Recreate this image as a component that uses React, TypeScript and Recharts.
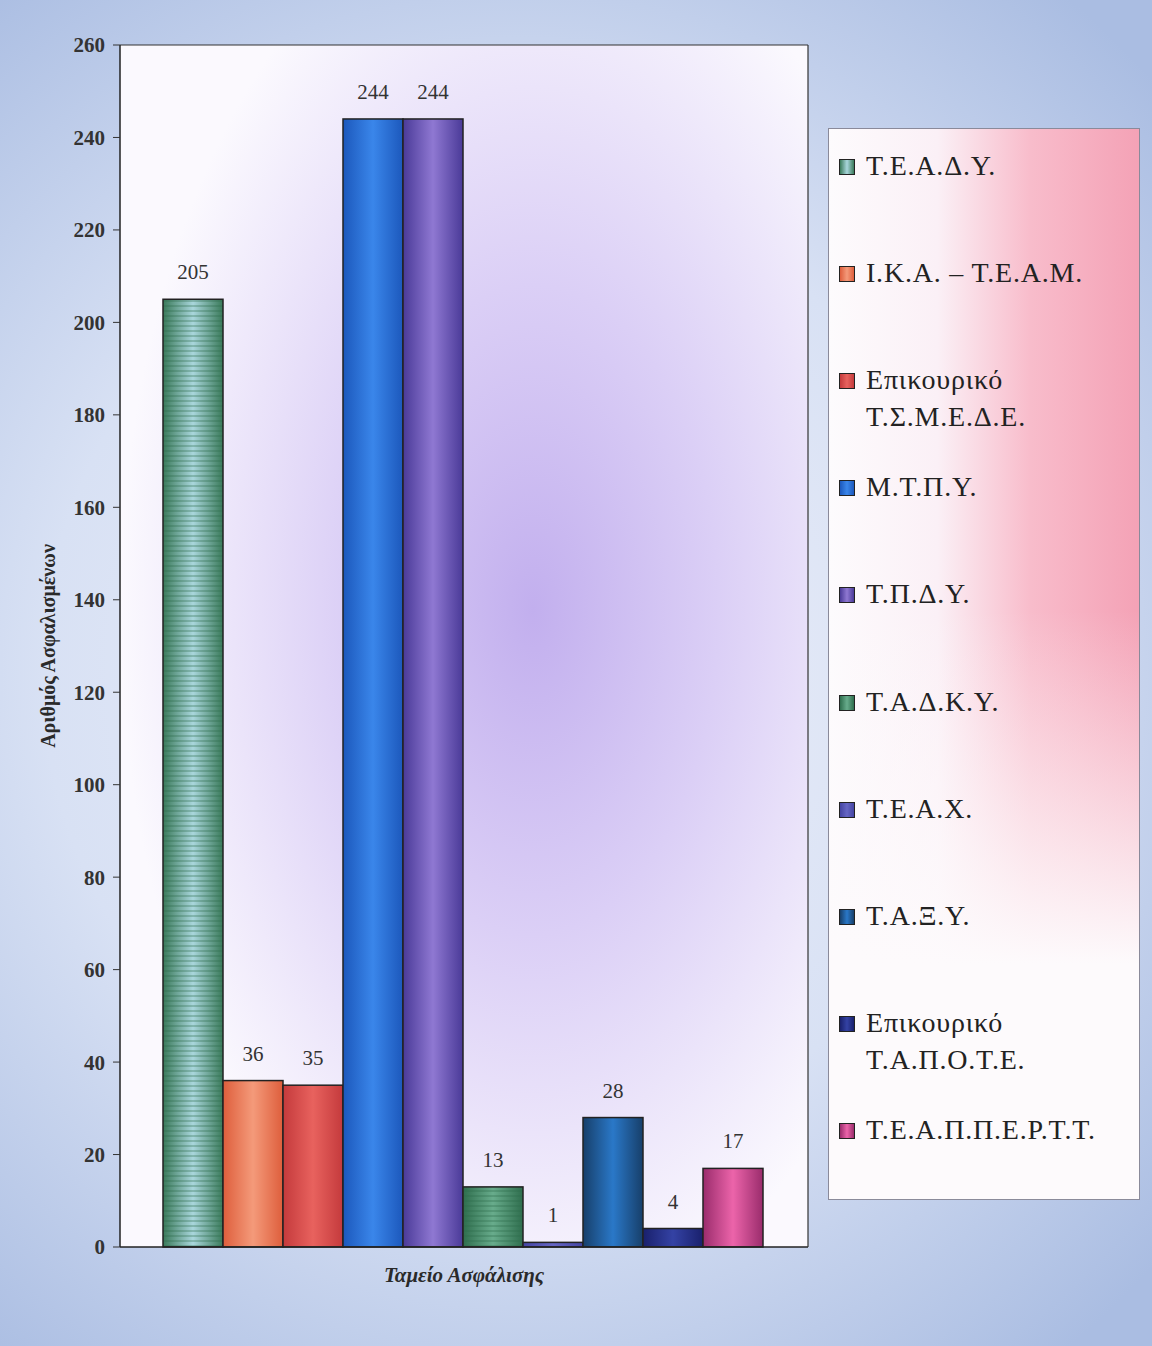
import React from 'react';
import { BarChart, Bar, XAxis, YAxis, CartesianGrid, LabelList } from 'recharts';

const category = ['Ταμείο Ασφάλισης'];
const seriesNames = [
  'Τ.Ε.Α.Δ.Υ.',
  'Ι.Κ.Α. – Τ.Ε.Α.Μ.',
  'Επικουρικό Τ.Σ.Μ.Ε.Δ.Ε.',
  'Μ.Τ.Π.Υ.',
  'Τ.Π.Δ.Υ.',
  'Τ.Α.Δ.Κ.Υ.',
  'Τ.Ε.Α.Χ.',
  'Τ.Α.Ξ.Υ.',
  'Επικουρικό Τ.Α.Π.Ο.Τ.Ε.',
  'Τ.Ε.Α.Π.Π.Ε.Ρ.Τ.Τ.',
];
const legendLines = [
  ['Τ.Ε.Α.Δ.Υ.'],
  ['Ι.Κ.Α. – Τ.Ε.Α.Μ.'],
  ['Επικουρικό', 'Τ.Σ.Μ.Ε.Δ.Ε.'],
  ['Μ.Τ.Π.Υ.'],
  ['Τ.Π.Δ.Υ.'],
  ['Τ.Α.Δ.Κ.Υ.'],
  ['Τ.Ε.Α.Χ.'],
  ['Τ.Α.Ξ.Υ.'],
  ['Επικουρικό', 'Τ.Α.Π.Ο.Τ.Ε.'],
  ['Τ.Ε.Α.Π.Π.Ε.Ρ.Τ.Τ.'],
];
const seriesValues = [205, 36, 35, 244, 244, 13, 1, 28, 4, 17];
const yTicks = [0, 20, 40, 60, 80, 100, 120, 140, 160, 180, 200, 220, 240, 260];
// [edge, center] colours of each bar
const barEdge = ['#3a7a5a', '#de5e3c', '#c43a3c', '#1c58bc', '#4a3a98', '#2f6e4e', '#4444a2', '#173f6a', '#19206c', '#9a2c6c'];
const barCenter = ['#a9d6dc', '#f49a7a', '#e8625e', '#3a86ea', '#8f78d2', '#68ac8c', '#6666c4', '#2a78c8', '#3442a4', '#ec64aa'];
const striped = [true, false, false, false, false, true, false, false, false, false];

const keys = seriesNames.map((_, i) => `s${i}`);
const data = category.map((c) => {
  const row: Record<string, any> = { name: c };
  keys.forEach((k, i) => (row[k] = seriesValues[i]));
  return row;
});

const serif = '"Liberation Serif", "DejaVu Serif", serif';

const YLabel = (props: any) => {
  const vb = props.viewBox || {};
  const x = (vb.x || 0) + 48;
  const y = (vb.y || 0) + (vb.height || 0) / 2;
  return (
    <text
      x={x}
      y={y}
      transform={`rotate(-90 ${x} ${y})`}
      textAnchor="middle"
      dominantBaseline="central"
      fontFamily={serif}
      fontSize={20}
      fontWeight="bold"
      fill="#2a2a2a"
    >
      Αριθμός Ασφαλισμένων
    </text>
  );
};

const makeShape = (i: number) => (props: any) => {
  const { x, y, width, height } = props;
  if (width == null || height == null) return <g />;
  return (
    <g>
      <rect x={x} y={y} width={width} height={height} fill={`url(#g${i})`} />
      {striped[i] && <rect x={x} y={y} width={width} height={height} fill="url(#stripes)" />}
      <rect x={x} y={y} width={width} height={height} fill="none" stroke="#222" strokeWidth={1.5} />
    </g>
  );
};

export default function App() {
  return (
    <div
      style={{
        position: 'absolute',
        left: 0,
        top: 0,
        width: 1152,
        height: 1346,
        overflow: 'hidden',
        background:
          'radial-gradient(ellipse 75% 65% at 45% 50%, #eef0fa 0%, #d8e1f4 55%, #aabde2 100%)',
      }}
    >
      <BarChart
        width={1152}
        height={1346}
        data={data}
        margin={{ top: 44, right: 343, left: 0, bottom: 39 }}
        barCategoryGap="6.25%"
        barGap={0}
      >
        <defs>
          <radialGradient id="plotGlow" cx="0.6" cy="0.47" r="0.6">
            <stop offset="0" stopColor="#c2afee" />
            <stop offset="0.45" stopColor="#dbcff6" />
            <stop offset="1" stopColor="#fbf9fe" />
          </radialGradient>
          <pattern id="stripes" patternUnits="userSpaceOnUse" width="8" height="5">
            <rect x="0" y="0" width="8" height="2" fill="#2c6a48" fillOpacity="0.3" />
          </pattern>
          {keys.map((k, i) => (
            <linearGradient key={k} id={`g${i}`} x1="0" y1="0" x2="1" y2="0">
              <stop offset="0" stopColor={barEdge[i]} />
              <stop offset="0.5" stopColor={barCenter[i]} />
              <stop offset="1" stopColor={barEdge[i]} />
            </linearGradient>
          ))}
        </defs>
        <CartesianGrid horizontal={false} vertical={false} fill="url(#plotGlow)" fillOpacity={1} />
        <XAxis
          dataKey="name"
          tick={false}
          tickLine={false}
          height={60}
          axisLine={{ stroke: '#222', strokeWidth: 1.5 }}
          label={{
            value: 'Ταμείο Ασφάλισης',
            position: 'insideTop',
            offset: 20,
            style: { fontFamily: serif, fontSize: 21, fontWeight: 'bold', fontStyle: 'italic', fill: '#2a2a2a' },
          }}
        />
        <XAxis xAxisId="top" orientation="top" dataKey="name" height={1} tick={false} tickLine={false} axisLine={{ stroke: '#333', strokeWidth: 1.2 }} />
        <YAxis
          domain={[0, 260]}
          ticks={yTicks}
          width={120}
          tickSize={7}
          tickMargin={8}
          interval={0}
          axisLine={{ stroke: '#222', strokeWidth: 1.5 }}
          tickLine={{ stroke: '#333' }}
          tick={{ fontFamily: serif, fontSize: 21, fontWeight: 'bold', fill: '#333' }}
          label={{ content: YLabel }}
        />
        <YAxis yAxisId="r" orientation="right" domain={[0, 260]} width={1} tick={false} tickLine={false} axisLine={{ stroke: '#333', strokeWidth: 1.2 }} />
        {keys.map((k, i) => (
          <Bar
            key={k}
            dataKey={k}
            name={seriesNames[i]}
            fill={`url(#g${i})`}
            stroke="#222"
            strokeWidth={1.5}
            shape={makeShape(i)}
            isAnimationActive={false}
          >
            <LabelList
              dataKey={k}
              position="top"
              offset={20}
              style={{ fontFamily: serif, fontSize: 21, fill: '#333' }}
            />
          </Bar>
        ))}
      </BarChart>
      <div
        style={{
          position: 'absolute',
          left: 828,
          top: 128,
          width: 312,
          height: 1072,
          boxSizing: 'border-box',
          border: '1px solid #8a8a9a',
          background:
            'linear-gradient(to bottom, rgba(253,250,252,0) 0%, rgba(253,250,252,0) 45%, rgba(253,250,252,1) 78%), linear-gradient(to right, #fdfbfd 0%, #fbf0f6 35%, #f8bccb 65%, #f4a2b6 100%)',
        }}
      >
        {legendLines.map((lines, i) => (
          <div
            key={i}
            style={{
              position: 'absolute',
              left: 10,
              top: 37 + i * 107.1 - 19,
              display: 'flex',
              alignItems: 'flex-start',
            }}
          >
            <div
              style={{
                width: 14,
                height: 14,
                marginTop: 12,
                marginRight: 11,
                border: '1.5px solid #222',
                background: `linear-gradient(to right, ${barEdge[i]}, ${barCenter[i]}, ${barEdge[i]})`,
              }}
            />
            <div
              style={{
                fontFamily: serif,
                fontSize: 28,
                letterSpacing: 0.8,
                lineHeight: '37px',
                color: '#222',
                whiteSpace: 'nowrap',
              }}
            >
              {lines.map((l, j) => (
                <div key={j}>{l}</div>
              ))}
            </div>
          </div>
        ))}
      </div>
    </div>
  );
}
